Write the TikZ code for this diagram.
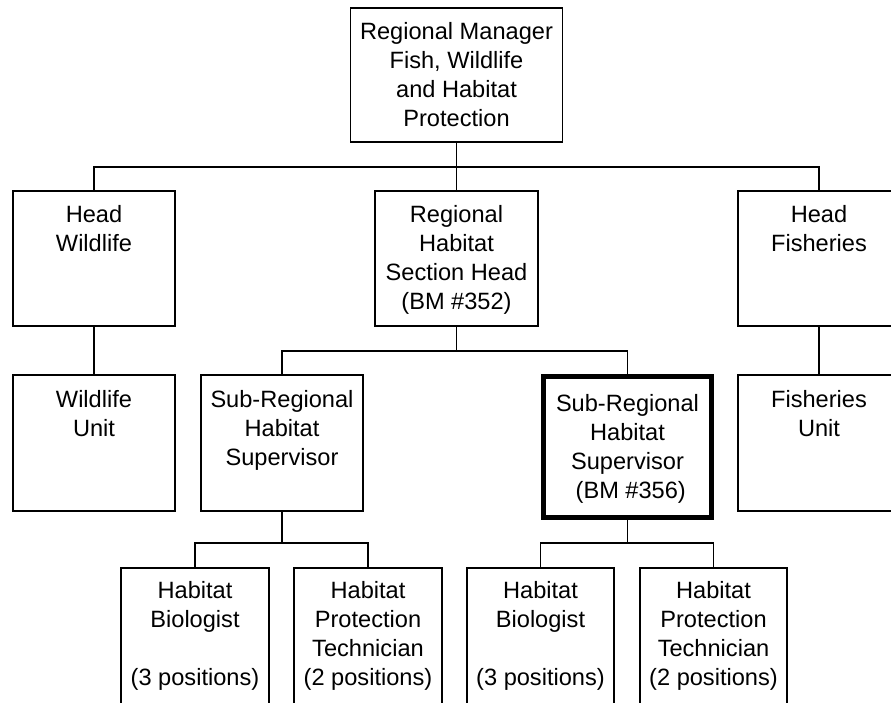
\documentclass[tikz,border=0pt]{standalone}
\usepackage{fontspec}
\setmainfont{Liberation Sans}
\newcommand{\bxt}[4]{\parbox[c][#2pt][t]{#1pt}{\centering\rule{0pt}{#3pt}#4}}
\begin{document}
\begin{tikzpicture}[x=1pt,y=-1pt,
  box/.style={draw, line width=1.8pt, inner sep=0pt, outer sep=0pt, font=\fontsize{23.6}{29}\selectfont},
  boldbox/.style={box, line width=5pt},
  conn/.style={line width=1.8pt}]
\useasboundingbox (0,0) rectangle (891,703);
\fill[white] (0,0) rectangle (891,703);
\clip (0,0) rectangle (891,703);
% level 0
\node[box] (top) at (456.5,75) {\bxt{212}{134}{32}{Regional Manager\\Fish, Wildlife\\and Habitat\\Protection}};
% level 1
\node[box] (hw) at (94,258.5) {\bxt{162}{135}{32}{Head\\Wildlife}};
\node[box] (rh) at (456.5,258.5) {\bxt{163}{135}{32}{Regional\\Habitat\\Section Head\\(BM \#352)}};
\node[box] (hf) at (819,258.5) {\bxt{162}{135}{32}{Head\\Fisheries}};
% level 2
\node[box] (wu) at (94,443) {\bxt{162}{136}{32}{Wildlife\\Unit}};
\node[box] (srl) at (282,443) {\bxt{162}{136}{32}{Sub-Regional\\Habitat\\Supervisor}};
\node[boldbox] (srr) at (627.5,447) {\bxt{168}{141}{34.5}{Sub-Regional\\Habitat\\Supervisor\\\ (BM \#356)}};
\node[box] (fu) at (819,443) {\bxt{162}{136}{32}{Fisheries\\Unit}};
% level 3
\node[box] (b1) at (195,654) {\bxt{148}{172}{30}{Habitat\\Biologist\\\mbox{}\\(3 positions)}};
\node[box] (b2) at (368,654) {\bxt{148}{172}{30}{Habitat\\Protection\\Technician\\(2 positions)}};
\node[box] (b3) at (540.5,654) {\bxt{147}{172}{30}{Habitat\\Biologist\\\mbox{}\\(3 positions)}};
\node[box] (b4) at (713.5,654) {\bxt{147}{172}{30}{Habitat\\Protection\\Technician\\(2 positions)}};
% bus coordinates
\coordinate (bus1) at (456.5,167);
\coordinate (bus2) at (456.5,351);
\coordinate (bus3) at (282,543);
\coordinate (bus4) at (627.5,543);
% connectors
\draw[conn] (top.south) -- (rh.north);
\draw[conn] (hw.north) |- (bus1) -| (hf.north);
\draw[conn] (hw.south) -- (wu.north);
\draw[conn] (hf.south) -- (fu.north);
\draw[conn] (rh.south) -- (bus2);
\draw[conn] (srl.north) |- (bus2) -| (srr.north);
\draw[conn] (srl.south) -- (bus3);
\draw[conn] (b1.north) |- (bus3) -| (b2.north);
\draw[conn] (srr.south) -- (bus4);
\draw[conn] (b3.north) |- (bus4) -| (b4.north);
\end{tikzpicture}
\end{document}
